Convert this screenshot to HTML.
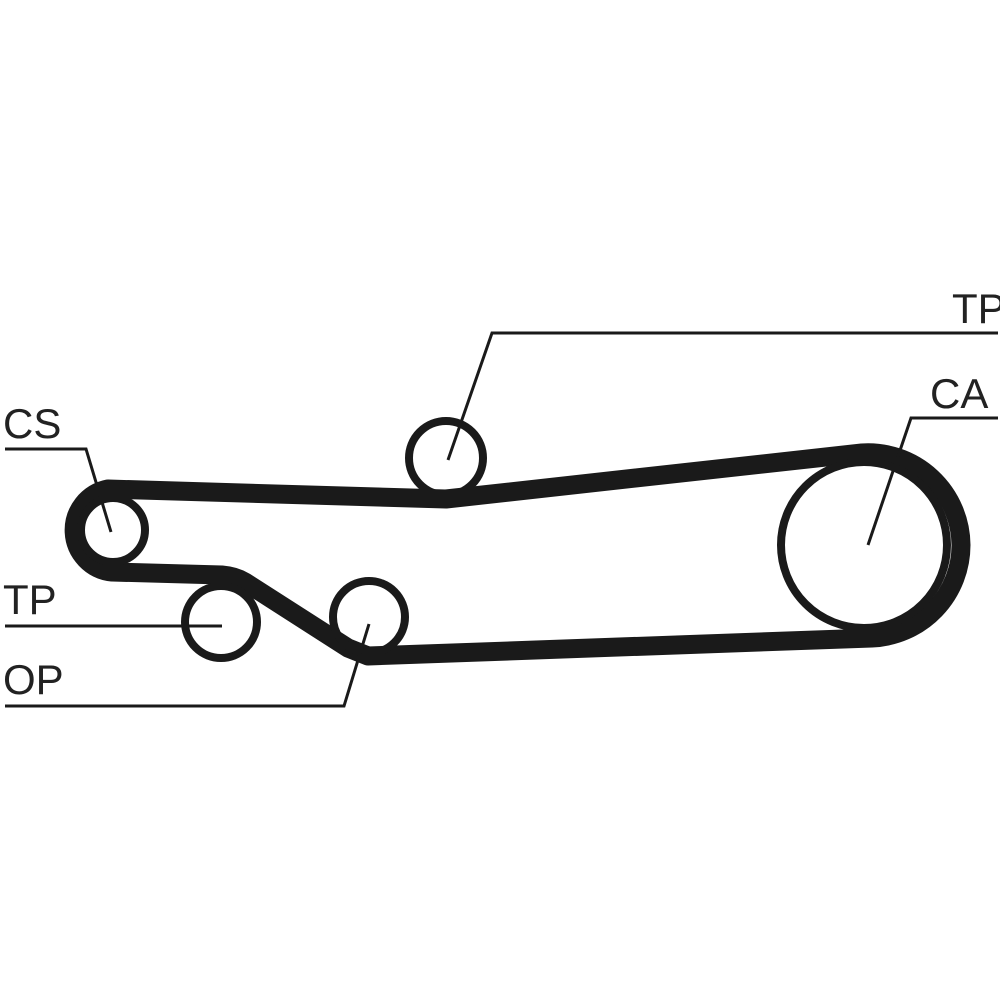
<!DOCTYPE html>
<html><head><style>body{margin:0;background:#fff}</style></head><body>
<svg width="1000" height="1000" viewBox="0 0 1000 1000" xmlns="http://www.w3.org/2000/svg">
<rect width="1000" height="1000" fill="#fff"/>
<g fill="none" stroke="#1a1a1a">
<path d="M108,489 L446,499 L862,453 A93,93 0 0 1 961,545 A93,93 0 0 1 872,638 L368,656 L348,648 L245,582 Q235,576 222,575 L112,572 A42,42 0 0 1 108,489 Z" stroke-width="19" stroke-linejoin="round"/>
<circle cx="113" cy="530" r="32" stroke-width="8"/>
<circle cx="446" cy="458" r="37" stroke-width="8"/>
<circle cx="221" cy="622" r="36" stroke-width="8"/>
<circle cx="369" cy="617" r="36" stroke-width="8"/>
<circle cx="864" cy="545" r="83" stroke-width="8"/>
<g stroke-width="3">
<polyline points="448,460 492,333 998,333"/>
<polyline points="5,449 86,449 111,532"/>
<polyline points="5,626 222,626"/>
<polyline points="369,624 344,706 5,706"/>
<polyline points="868,545 911,418 998,418"/>
</g>
</g>
<g font-family="Liberation Sans, sans-serif" font-size="42" fill="#222">
<text x="3" y="438">CS</text>
<text x="3" y="614">TP</text>
<text x="3" y="694">OP</text>
<text x="952" y="323">TP</text>
<text x="930" y="408">CA</text>
</g>
</svg>
</body></html>
